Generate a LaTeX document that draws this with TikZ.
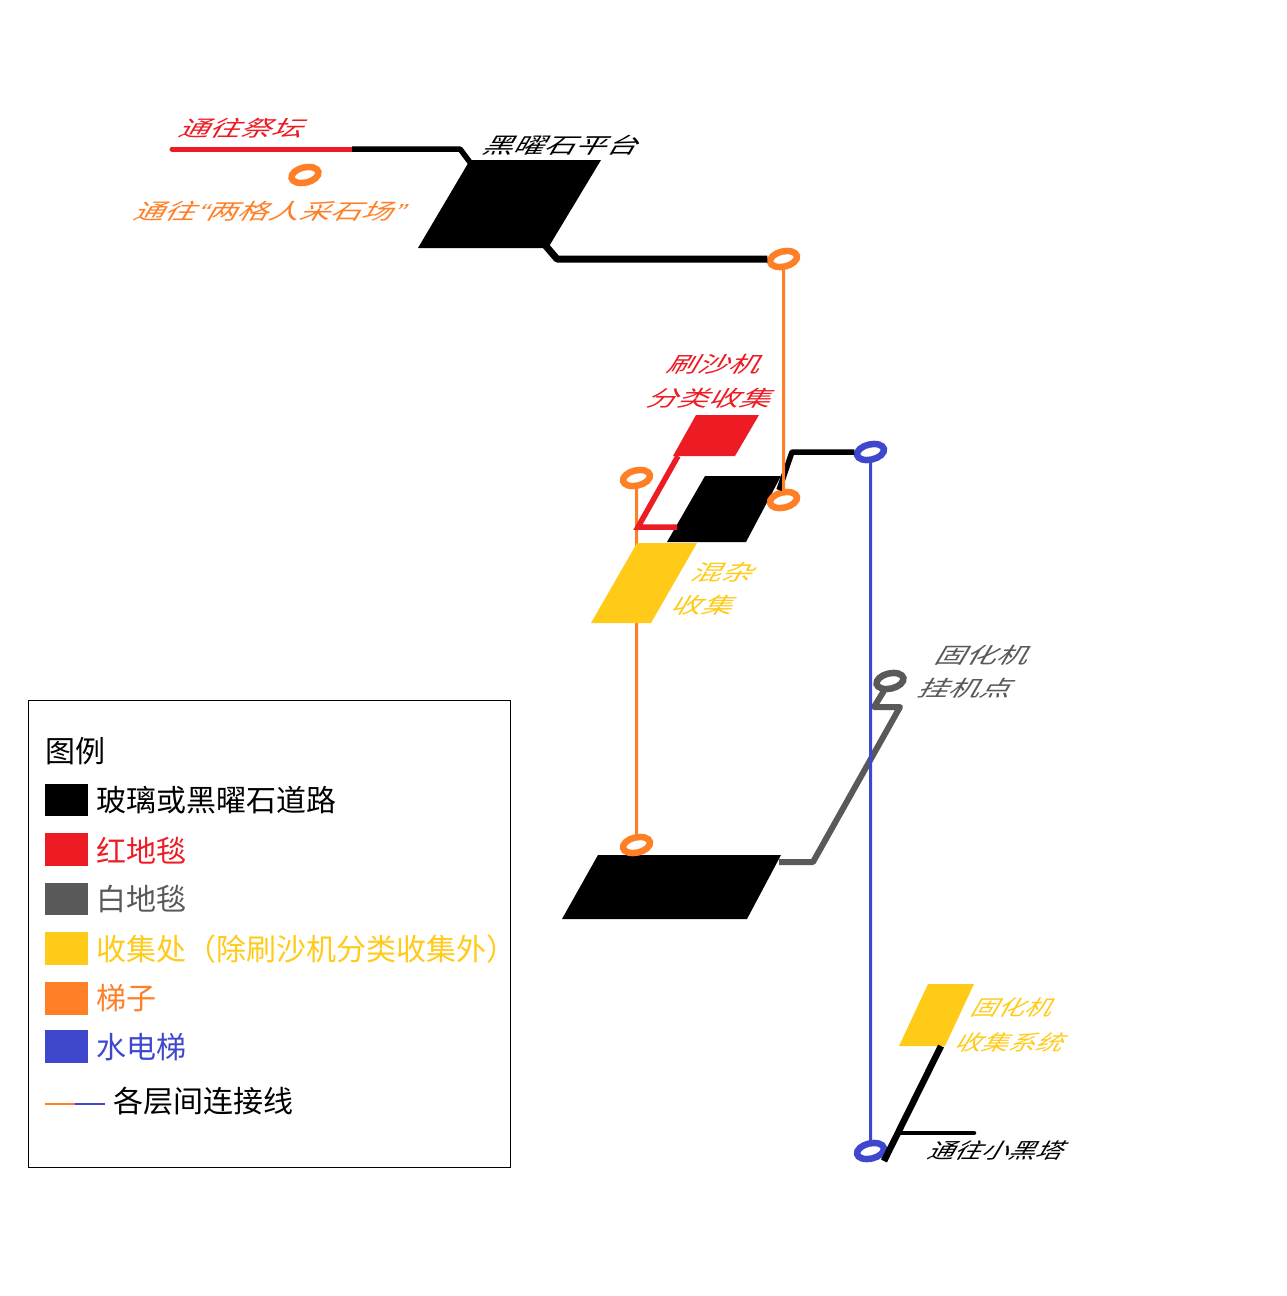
\documentclass[tikz,border=0pt]{standalone}
\usepackage{fontspec}
\setmainfont{Noto Sans CJK SC}
\newfontfamily\quotefont{Liberation Sans}
\usetikzlibrary{positioning,shapes.geometric}
\definecolor{inkred}{HTML}{ED1C24}
\definecolor{inkgray}{HTML}{595959}
\definecolor{inkyellow}{HTML}{FFCA18}
\definecolor{inkorange}{HTML}{FF7F27}
\definecolor{inkblue}{HTML}{3F48CC}

\begin{document}
\begin{tikzpicture}[
  x=1pt, y=-1pt,
  ring/.style={
    circle, draw, fill=white, line width=6.5pt, inner sep=0pt,
    minimum size=26pt, xslant=0.45, yscale=0.62, transform shape
  },
  road/.style={line width=5.5pt, line join=round},
  link/.style={line width=3pt},
  maplabel/.style={
    font=\fontsize{31}{36}\selectfont, inner sep=0pt,
    xslant=0.59, yscale=0.7, transform shape
  },
  lowlabel/.style={
    font=\fontsize{27}{32}\selectfont, inner sep=0pt,
    xslant=0.59, yscale=0.78, transform shape
  },
  swatch/.style={
    rectangle, minimum width=21.4pt, minimum height=32.5pt,
    inner sep=0pt, anchor=north west
  },
  keytext/.style={
    font=\fontsize{30}{36}\selectfont, inner sep=0pt, anchor=west
  }
]
\useasboundingbox (0,0) rectangle (1287,1296);

% Platforms
\fill (470,160) -- (601,160) -- (548,248) -- (418,248) -- cycle;
\fill (705,476) -- (781,476) -- (746,542) -- (667,542) -- cycle;
\fill (598,855) -- (781,855) -- (747,919) -- (562,919) -- cycle;
\fill[inkred] (696,415) -- (759,415) -- (735,456) -- (673,456) -- cycle;

% Rings
\node[ring, draw=inkorange] (ringquarry) at (305,175) {};
\node[ring, draw=inkorange] (ringtop) at (783.5,259) {};
\node[ring, draw=inkorange] (ringmidl) at (636.5,478) {};
\node[ring, draw=inkorange] (ringmidr) at (783.5,500) {};
\node[ring, draw=inkblue] (ringwater) at (870.5,452) {};
\node[ring, draw=inkorange] (ringlow) at (636.5,845) {};
\node[ring, draw=inkgray] (ringhang) at (890,681) {};
\node[ring, draw=inkblue] (ringbase) at (870.5,1151) {};

% Road ends
\coordinate (altarend) at (172,149);
\coordinate (altarjoin) at (352,149);
\coordinate (lowmid) at (779,862);

% Orange link behind the yellow block
\draw[link, inkorange] (ringmidl) -- (ringlow);
\fill[inkyellow] (637,543) -- (697,543) -- (651,623) -- (591,623) -- cycle;
\fill[inkyellow] (928,984) -- (974,984) -- (945,1046) -- (899,1046) -- cycle;

% Roads
\draw[road, line width=5pt, inkred, line cap=round] (altarend) -- (altarjoin);
\draw[road] (altarjoin) -- (460,149) -- (472,165);
\draw[road, line width=7pt] (545,245) -- (557,259) -- (ringtop);
\draw[road] (779,490) -- (792,452) -- (ringwater);
\draw[road, inkred, miter limit=10, line join=miter] (678,456) -- (638,527) -- (677,527);
\draw[road, line width=6pt, inkgray] (lowmid) -- (813,862) -- (900,707) -- (874,707) -- (ringhang);
\draw[road, line width=6.5pt] (941,1046) -- (884,1161);
\draw[road, line width=4.5pt, line cap=round] (899,1133) -- (974,1133);

% Links between floors
\draw[link, inkorange] (ringtop) -- (ringmidr);
\draw[link, inkblue] (ringwater) -- (ringbase);

% Map labels
\node[maplabel, text=inkred] (altar) at (244,128) {通往祭坛};
\node[maplabel, text=inkorange] (quarry) at (272,211) {通往{\quotefont “}两格人采石场{\quotefont ”}};
\node[maplabel] (obsidian) at (564,145) {黑曜石平台};
\node[maplabel, text=inkred] (sandone) at (717,364) {刷沙机};
\node[maplabel, text=inkred] (sandtwo) at (712,398) {分类收集};
\node[maplabel, text=inkyellow] (mixone) at (725,572) {混杂};
\node[maplabel, text=inkyellow] (mixtwo) at (705,605) {收集};
\node[maplabel, text=inkgray] (hangone) at (985,655) {固化机};
\node[maplabel, text=inkgray] (hangtwo) at (968,688) {挂机点};
\node[lowlabel, text=inkyellow] (solidone) at (1015,1008) {固化机};
\node[lowlabel, text=inkyellow] (solidtwo) at (1012,1042) {收集系统};
\node[lowlabel] (tower) at (999,1150) {通往小黑塔};

% Legend
\node[draw, line width=1pt, minimum width=482pt, minimum height=467pt, inner sep=0pt] (legend) at (269.5,934) {};
\node[keytext, anchor=west] (keytitle) at (45,751.5) {图例};

\node[swatch, fill=black] (keyroad) at (45,783.5) {};
\node[swatch, fill=black, right=0pt of keyroad] {};
\node[keytext] at (96.5,800.5) {玻璃或黑曜石道路};

\node[swatch, fill=inkred] (keyred) at (45,833) {};
\node[swatch, fill=inkred, right=0pt of keyred] {};
\node[keytext, text=inkred] at (96,850.5) {红地毯};

\node[swatch, fill=inkgray] (keygray) at (45,882.5) {};
\node[swatch, fill=inkgray, right=0pt of keygray] {};
\node[keytext, text=inkgray] at (96,899.5) {白地毯};

\node[swatch, fill=inkyellow] (keyyellow) at (45,932) {};
\node[swatch, fill=inkyellow, right=0pt of keyyellow] {};
\node[keytext, text=inkyellow] at (96.5,949.5) {收集处（除刷沙机分类收集外）};

\node[swatch, fill=inkorange] (keyorange) at (45,982) {};
\node[swatch, fill=inkorange, right=0pt of keyorange] {};
\node[keytext, text=inkorange] at (96.5,998.5) {梯子};

\node[swatch, fill=inkblue] (keyblue) at (45,1030) {};
\node[swatch, fill=inkblue, right=0pt of keyblue] {};
\node[keytext, text=inkblue] at (96,1047.5) {水电梯};

\coordinate (keylinea) at (45,1103.5);
\coordinate (keylineb) at (75,1103.5);
\coordinate (keylinec) at (105,1103.5);
\draw[line width=2pt, inkorange] (keylinea) -- (keylineb);
\draw[line width=2pt, inkblue] (keylineb) -- (keylinec);
\node[keytext] at (113,1101.5) {各层间连接线};

\end{tikzpicture}
\end{document}
